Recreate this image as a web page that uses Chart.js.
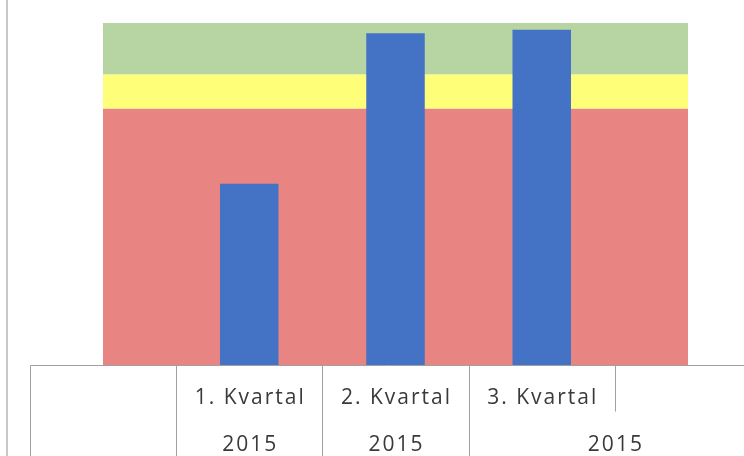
<!DOCTYPE html>
<html>
<head>
<meta charset="utf-8">
<script src="https://cdn.jsdelivr.net/npm/chart.js@4/dist/chart.umd.min.js"></script>
<style>
    html, body { margin: 0; padding: 0; background: #fff; }
    canvas { display: block; }
</style>
</head>
<body>
<canvas id="chart" width="744" height="456"></canvas>
<script>
// DATA
const quarters = ['', '1. Kvartal', '2. Kvartal', '3. Kvartal', '']
const values = [null, 53, 97, 98, null]
const years = ['2015', '2015', '2015']
const yearSpans = [[1, 1], [2, 2], [3, 4]]
const bandLimits = [0, 75, 85, 100]
const bandColors = ['#E88482', '#FEFE78', '#B7D5A3']

const lineColor = '#A0A0A0'
const textColor = '#3A3A3A'
const font = '21px "Open Sans"'

// BANDS BEHIND THE BARS
const bandsPlugin = {
    id: 'bands',
    beforeDatasetsDraw(chart) {
        const { ctx, chartArea, scales } = chart
        ctx.save()
        for (let i = 0; i < bandColors.length; i++) {
            const top = scales.y.getPixelForValue(bandLimits[i + 1])
            const bottom = scales.y.getPixelForValue(bandLimits[i])
            ctx.fillStyle = bandColors[i]
            ctx.fillRect(chartArea.left, top, chartArea.right - chartArea.left, bottom - top)
        }
        ctx.restore()
    }
}

// TABLE-LIKE AXIS UNDER THE CHART
const tablePlugin = {
    id: 'table',
    afterDraw(chart) {
        const { ctx, chartArea, scales, width, height } = chart
        const x = scales.x
        const step = x.getPixelForValue(1) - x.getPixelForValue(0)
        const edge = (i) => x.getPixelForValue(i) - step / 2
        const axisY = chartArea.bottom + 0.5
        const rowY = axisY + 46

        ctx.save()

        // left frame line
        ctx.beginPath()
        ctx.strokeStyle = '#C8C8C8'
        ctx.lineWidth = 2
        ctx.moveTo(7, 0)
        ctx.lineTo(7, height)
        ctx.stroke()

        ctx.strokeStyle = lineColor
        ctx.lineWidth = 1
        ctx.beginPath()
        ctx.moveTo(Math.round(edge(0)) + 0.5, axisY)
        ctx.lineTo(width, axisY)
        ctx.stroke()

        for (let i = 0; i < quarters.length; i++) {
            const px = Math.round(edge(i)) + 0.5
            const last = i === quarters.length - 1
            ctx.beginPath()
            ctx.moveTo(px, axisY)
            ctx.lineTo(px, last ? rowY : height)
            ctx.stroke()
        }

        ctx.fillStyle = textColor
        ctx.font = font
        ctx.letterSpacing = '2px'
        ctx.textAlign = 'center'
        ctx.textBaseline = 'middle'
        quarters.forEach((label, i) => {
            if (label) ctx.fillText(label, x.getPixelForValue(i) + 1, axisY + 33)
        })
        years.forEach((label, i) => {
            const [from, to] = yearSpans[i]
            const cx = (edge(from) + edge(to + 1)) / 2
            ctx.fillText(label, cx + 1, axisY + 80)
        })
        ctx.restore()
    }
}

const chartCtx = document.getElementById('chart')

new Chart(chartCtx, {
    type: 'bar',
    data: {
        labels: quarters,
        datasets: [{
            data: values,
            backgroundColor: '#4472C4',
            borderWidth: 0,
            barPercentage: 0.8,
            categoryPercentage: 0.5,
        }]
    },
    options: {
        responsive: false,
        animation: false,
        layout: {
            padding: { left: 103, right: 56, top: 23, bottom: 91 }
        },
        plugins: {
            legend: { display: false },
            tooltip: { enabled: false },
        },
        scales: {
            x: {
                display: false,
                offset: false,
            },
            y: {
                display: false,
                min: 0,
                max: 100,
            }
        }
    },
    plugins: [bandsPlugin, tablePlugin],
})
</script>
</body>
</html>
